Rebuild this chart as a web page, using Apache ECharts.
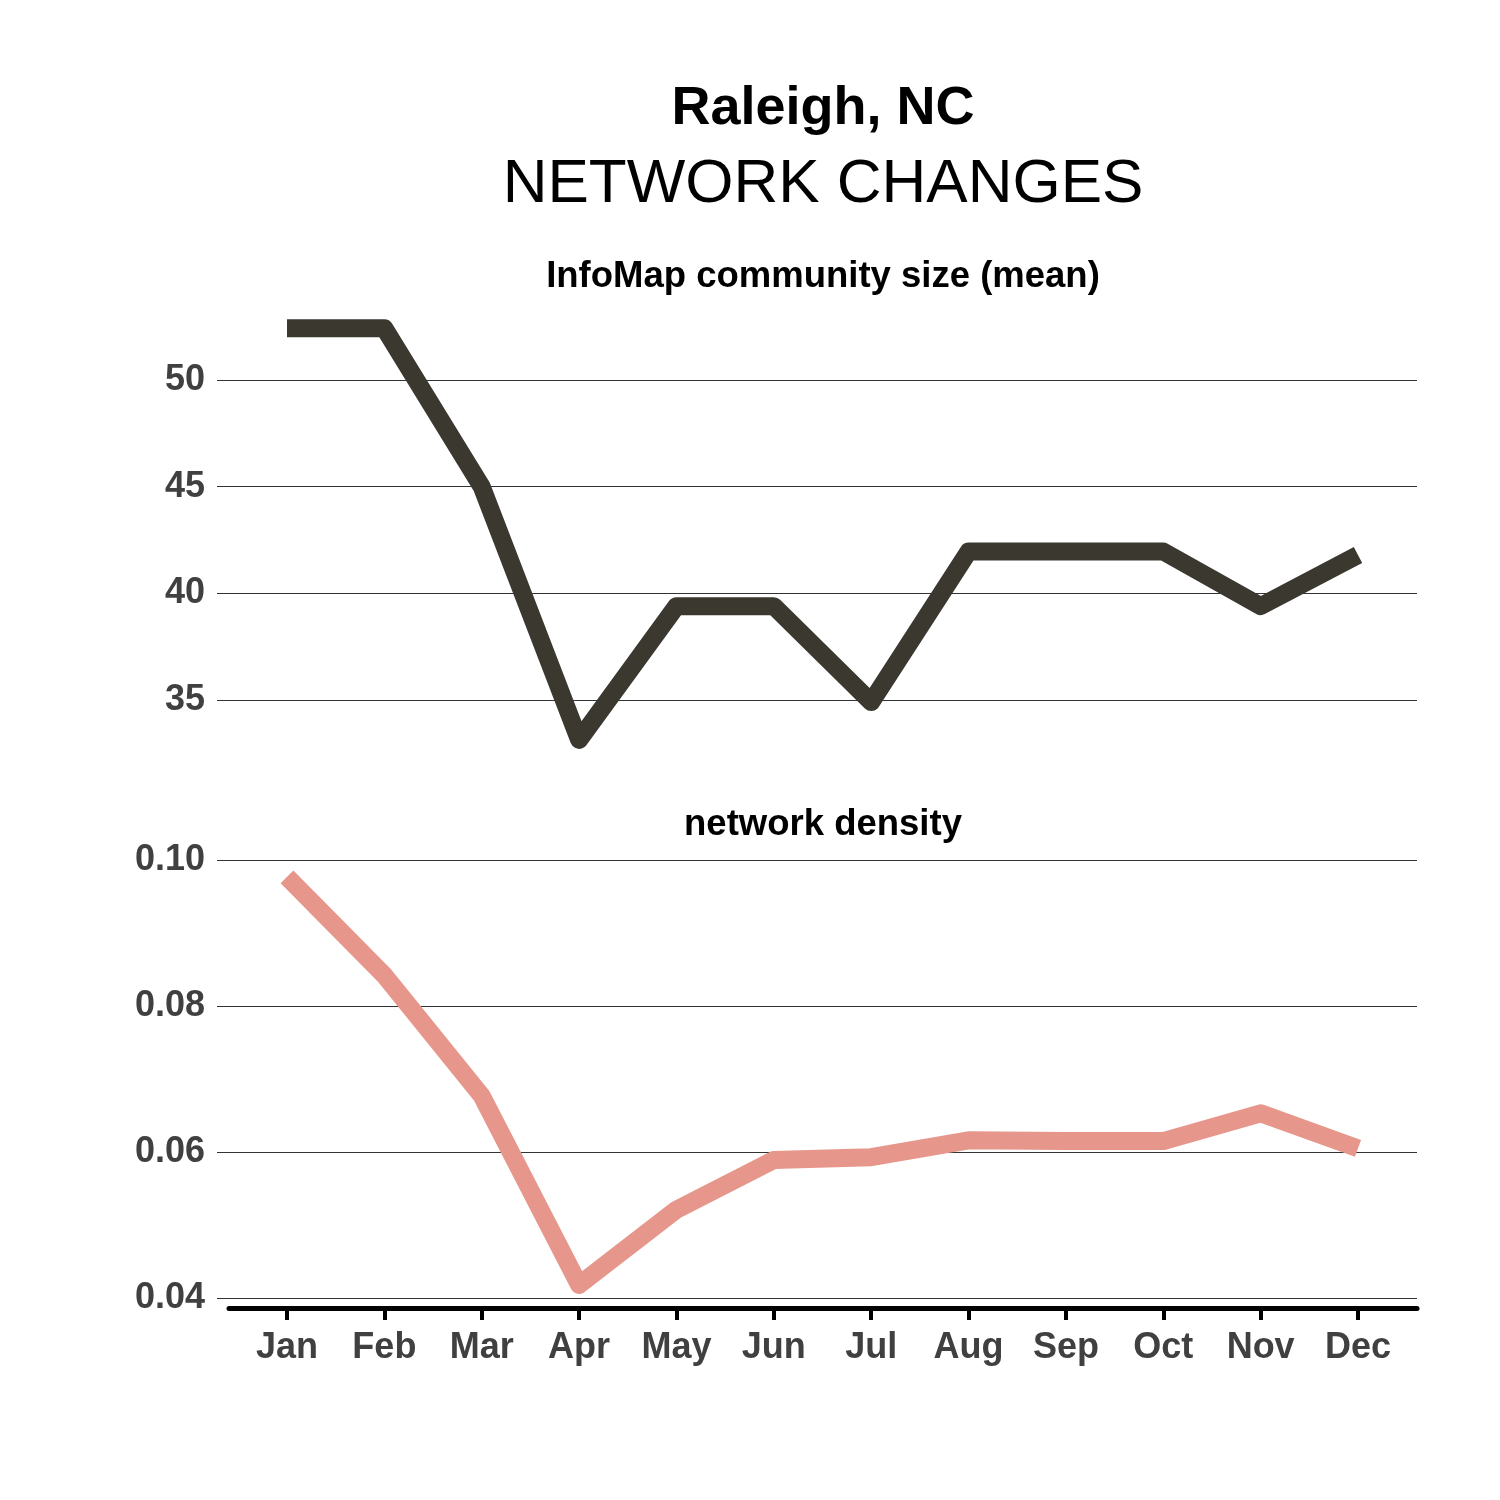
<!DOCTYPE html>
<html>
<head>
    <meta charset="utf-8">
    <title>Raleigh, NC network changes</title>
    <script src="https://cdn.jsdelivr.net/npm/echarts@6/dist/echarts.min.js"></script>
    <style type="text/css">
        body { margin: 0; background: #fff; }
        #main { width: 1500px; height: 1500px; }
    </style>
</head>
<body>
<div id="main"></div>
<script type="text/javascript">
    var months = ['Jan', 'Feb', 'Mar', 'Apr', 'May', 'Jun', 'Jul', 'Aug', 'Sep', 'Oct', 'Nov', 'Dec'];
    // InfoMap community size (mean)
    var communitySize = [52.43, 52.43, 45.0, 33.13, 39.4, 39.4, 34.9, 41.96, 41.96, 41.96, 39.4, 41.8];
    // network density
    var density = [0.0977, 0.0842, 0.0677, 0.0418, 0.0521, 0.0589, 0.0593, 0.0616, 0.0615, 0.0615, 0.0653, 0.0605];
    var sizeTicks = [35, 40, 45, 50];
    var densityTicks = [0.04, 0.06, 0.08, 0.10];
    var monthTicks = months.map(function (m, i) { return i + 1; });

    var font = 'Liberation Sans, Arial, Helvetica, sans-serif';
    var labelStyle = { fontFamily: font, fontSize: 36, fontWeight: 'bold', color: '#404040' };
    var gridLine = { show: true, lineStyle: { color: '#333', width: 1 } };

    function toPoints(arr) {
        return arr.map(function (v, i) { return [i + 1, v]; });
    }

    var xMin = 0.281, xMax = 12.606;
    var cx = 818;

    var option = {
        backgroundColor: '#fff',
        animation: false,
        title: [
            { text: 'Raleigh, NC', left: cx, top: 104, textAlign: 'center', textVerticalAlign: 'middle',
              textStyle: { fontFamily: font, fontSize: 54, fontWeight: 'bold', color: '#000' } },
            { text: 'NETWORK CHANGES', left: cx, top: 180, textAlign: 'center', textVerticalAlign: 'middle',
              textStyle: { fontFamily: font, fontSize: 62, fontWeight: 'normal', color: '#000' } },
            { text: 'InfoMap community size (mean)', left: cx, top: 272, textAlign: 'center', textVerticalAlign: 'middle',
              textStyle: { fontFamily: font, fontSize: 36.5, fontWeight: 'bold', color: '#000' } },
            { text: 'network density', left: cx, top: 820, textAlign: 'center', textVerticalAlign: 'middle',
              textStyle: { fontFamily: font, fontSize: 36.5, fontWeight: 'bold', color: '#000' } }
        ],
        grid: [
            { left: 217, right: 83, top: 307.5, height: 452 },
            { left: 217, right: 83, top: 856, height: 451 },
            { left: 229, right: 83, top: 1307, height: 1 }
        ],
        xAxis: [
            { type: 'value', gridIndex: 0, min: xMin, max: xMax, show: false },
            { type: 'value', gridIndex: 1, min: xMin, max: xMax,
              axisLine: { show: false },
              splitLine: { show: false },
              axisTick: { show: true, customValues: monthTicks, length: 13, lineStyle: { color: '#000', width: 4 } },
              axisLabel: Object.assign({ customValues: monthTicks, margin: 23,
                  formatter: function (v) { return months[Math.round(v) - 1]; } }, labelStyle) },
            { type: 'value', gridIndex: 2, min: 0, max: 1,
              axisLine: { show: true, onZero: false, lineStyle: { color: '#000', width: 5 } },
              axisTick: { show: false }, axisLabel: { show: false }, splitLine: { show: false } }
        ],
        yAxis: [
            { type: 'value', gridIndex: 0, min: 32.21, max: 53.4,
              axisLine: { show: false },
              axisTick: { show: false, customValues: sizeTicks },
              splitLine: gridLine,
              axisLabel: Object.assign({ customValues: sizeTicks, margin: 12 }, labelStyle) },
            { type: 'value', gridIndex: 1, min: 0.03877, max: 0.10055,
              axisLine: { show: false },
              axisTick: { show: false, customValues: densityTicks },
              splitLine: gridLine,
              axisLabel: Object.assign({ customValues: densityTicks, margin: 12,
                  formatter: function (v) { return v.toFixed(2); } }, labelStyle) },
            { type: 'value', gridIndex: 2, show: false }
        ],
        series: [
            { name: 'InfoMap community size (mean)', type: 'line', xAxisIndex: 0, yAxisIndex: 0,
              data: toPoints(communitySize), symbol: 'none',
              lineStyle: { color: '#3b3830', width: 18, cap: 'butt', join: 'round' } },
            { name: 'network density', type: 'line', xAxisIndex: 1, yAxisIndex: 1,
              data: toPoints(density), symbol: 'none',
              lineStyle: { color: '#e6968a', width: 18, cap: 'butt', join: 'round' } }
        ]
    };

    var chart = echarts.init(document.getElementById('main'));
    chart.setOption(option);
</script>
</body>
</html>
